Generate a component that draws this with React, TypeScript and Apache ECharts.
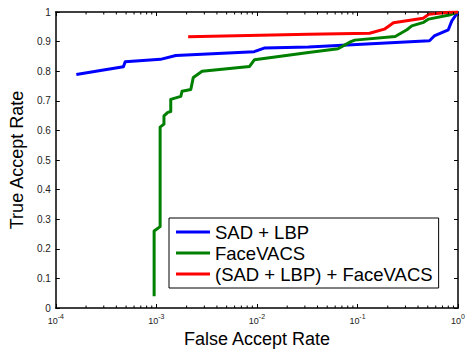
import React, { useEffect, useRef } from "react";
import * as echarts from "echarts";

const SERIES_NAMES = ["SAD + LBP", "FaceVACS", "(SAD + LBP) + FaceVACS"];
const SERIES_COLORS = ["#0000ff", "#008000", "#ff0000"];

const BLUE_FAR = [1.6e-4, 2.88e-4, 4.7e-4, 4.9e-4, 1.1e-3, 1.56e-3, 9.4e-3, 0.0118, 0.0326, 0.52, 0.58, 0.8, 0.867, 1.0];
const BLUE_TAR = [0.789, 0.803, 0.815, 0.832, 0.84, 0.853, 0.866, 0.878, 0.882, 0.903, 0.919, 0.94, 0.97, 1.0];

const GREEN_FAR = [9.5e-4, 9.5e-4, 1.09e-3, 1.09e-3, 1.19e-3, 1.19e-3, 1.3e-3, 1.39e-3, 1.39e-3, 1.75e-3, 1.8e-3, 2.2e-3, 2.33e-3, 2.85e-3, 8.45e-3, 9.46e-3, 0.0326, 0.064, 0.086, 0.094, 0.237, 0.31, 0.347, 0.455, 0.51, 0.817, 1.0];
const GREEN_TAR = [0.04, 0.26, 0.275, 0.611, 0.621, 0.649, 0.661, 0.664, 0.705, 0.715, 0.732, 0.738, 0.779, 0.8, 0.816, 0.839, 0.863, 0.876, 0.9, 0.905, 0.917, 0.94, 0.953, 0.965, 0.976, 0.99, 1.0];

const RED_FAR = [2.07e-3, 0.0326, 0.132, 0.185, 0.228, 0.45, 0.51, 0.81, 1.0];
const RED_TAR = [0.916, 0.925, 0.928, 0.942, 0.964, 0.979, 0.992, 0.999, 1.0];

const DECADES = [1e-4, 1e-3, 1e-2, 1e-1];
const MINOR_MULTIPLIERS = [2, 3, 4, 5, 6, 7, 8, 9];

const X_NAME = "False Accept Rate";
const Y_NAME = "True Accept Rate";

const FONT = "'Liberation Sans', Arial, Helvetica, sans-serif";

function pairs(xs: number[], ys: number[]) {
  return xs.map((x, i) => [x, ys[i]]);
}

export default function App() {
  const ref = useRef<HTMLDivElement>(null);
  useEffect(() => {
    if (!ref.current) return;
    const chart = echarts.init(ref.current, null, { renderer: "svg" });
    const minor: number[][] = [];
    DECADES.forEach((d) => MINOR_MULTIPLIERS.forEach((m) => minor.push([m * d, 0])));
    const datasets = [pairs(BLUE_FAR, BLUE_TAR), pairs(GREEN_FAR, GREEN_TAR), pairs(RED_FAR, RED_TAR)];
    const axisLine = { show: true, onZero: false, lineStyle: { color: "#000", width: 1.5 } };
    const tick = { show: true, inside: true, length: 4, lineStyle: { color: "#000", width: 1 } };
    const option: any = {
      animation: false,
      backgroundColor: "#fff",
      textStyle: { fontFamily: FONT },
      grid: { left: 53, top: 12, right: 6, bottom: 43, containLabel: false },
      legend: {
        data: SERIES_NAMES,
        orient: "vertical",
        left: 169,
        top: 218,
        padding: [3.5, 6, 3.5, 7],
        itemGap: 0,
        itemWidth: 34,
        itemHeight: 3,
        icon: "rect",
        borderColor: "#000",
        borderWidth: 1,
        backgroundColor: "#fff",
        textStyle: { fontSize: 18.5, color: "#000", fontFamily: FONT, lineHeight: 21 },
      },
      xAxis: [
        {
          type: "log",
          logBase: 10,
          min: 1e-4,
          max: 1,
          position: "bottom",
          name: X_NAME,
          nameLocation: "middle",
          nameGap: 22,
          nameTextStyle: { fontSize: 18, color: "#000", fontFamily: FONT },
          axisLine,
          axisTick: tick,
          splitLine: { show: false },
          axisLabel: {
            show: true,
            margin: 5,
            showMinLabel: true,
            showMaxLabel: true,
            formatter: (v: number) => `{b|10}{s|${Math.round(Math.log10(v))}}`,
            rich: {
              b: { fontSize: 9, color: "#222", fontFamily: FONT, verticalAlign: "bottom" },
              s: { fontSize: 7, color: "#222", fontFamily: FONT, verticalAlign: "bottom", padding: [0, 0, 5, 0] },
            },
          },
        },
        {
          type: "log",
          logBase: 10,
          min: 1e-4,
          max: 1,
          position: "top",
          axisLine,
          axisTick: tick,
          axisLabel: { show: false },
          splitLine: { show: false },
        },
      ],
      yAxis: [
        {
          type: "value",
          min: 0,
          max: 1,
          interval: 0.1,
          position: "left",
          name: Y_NAME,
          nameLocation: "middle",
          nameGap: 26,
          nameTextStyle: { fontSize: 18, color: "#000", fontFamily: FONT },
          axisLine,
          axisTick: tick,
          splitLine: { show: false },
          axisLabel: {
            margin: 5,
            fontSize: 10,
            color: "#222",
            fontFamily: FONT,
            formatter: (v: number) => String(parseFloat(v.toFixed(1))),
          },
        },
        {
          type: "value",
          min: 0,
          max: 1,
          interval: 0.1,
          position: "right",
          axisLine,
          axisTick: tick,
          axisLabel: { show: false },
          splitLine: { show: false },
        },
      ],
      series: [
        ...datasets.map((d, i) => ({
          name: SERIES_NAMES[i],
          type: "line",
          data: d,
          xAxisIndex: 0,
          yAxisIndex: 0,
          symbol: "none",
          showSymbol: false,
          color: SERIES_COLORS[i],
          lineStyle: { color: SERIES_COLORS[i], width: 3, join: "round" },
          z: 3 + i,
        })),
        {
          name: "minorTicks",
          type: "custom",
          xAxisIndex: 0,
          yAxisIndex: 0,
          silent: true,
          clip: false,
          data: minor,
          z: 10,
          renderItem: (_p: any, api: any) => {
            const v = api.value(0);
            const pb = api.coord([v, 0]);
            const pt = api.coord([v, 1]);
            return {
              type: "group",
              children: [
                { type: "line", shape: { x1: pb[0], y1: pb[1], x2: pb[0], y2: pb[1] - 2.5 }, style: { stroke: "#000", lineWidth: 1 } },
                { type: "line", shape: { x1: pt[0], y1: pt[1], x2: pt[0], y2: pt[1] + 2.5 }, style: { stroke: "#000", lineWidth: 1 } },
              ],
            };
          },
        },
      ],
    };
    chart.setOption(option);
    return () => chart.dispose();
  }, []);
  return <div ref={ref} style={{ position: "absolute", left: 0, top: 0, width: 468, height: 353, background: "#fff" }} />;
}
